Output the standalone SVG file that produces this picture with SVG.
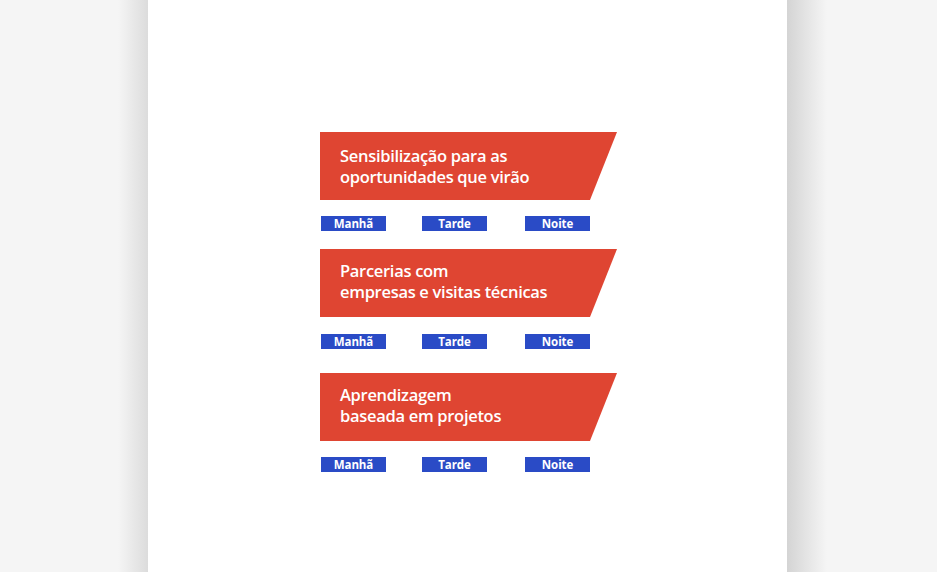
<svg xmlns="http://www.w3.org/2000/svg" width="937" height="572" viewBox="0 0 937 572">
<defs>
<linearGradient id="shL" x1="0" x2="1" y1="0" y2="0">
<stop offset="0" stop-color="#f5f5f5"/>
<stop offset="1" stop-color="#dcdcdc"/>
</linearGradient>
<linearGradient id="shR" x1="0" x2="1" y1="0" y2="0">
<stop offset="0" stop-color="#d4d4d4"/>
<stop offset="1" stop-color="#f5f5f5"/>
</linearGradient>
</defs>
<style>
.banner{fill:#df4532}
.bt{font-family:"Open Sans","Liberation Sans",sans-serif;font-weight:600;font-size:16.5px;letter-spacing:-0.3px;fill:#ffffff}
.box{fill:#2a4bc6}
.lt{font-family:"Open Sans","Liberation Sans",sans-serif;font-weight:700;font-size:11.5px;letter-spacing:-0.1px;fill:#ffffff;text-anchor:middle}
</style>
<rect width="937" height="572" fill="#f5f5f5"/>
<rect x="118" y="0" width="30" height="572" fill="url(#shL)"/>
<rect x="787" y="0" width="40" height="572" fill="url(#shR)"/>
<rect x="148" y="0" width="639" height="572" fill="#ffffff"/>
<g id="node1">
<polygon class="banner" points="320,132 617,132 590,200 320,200"/>
<text class="bt" x="340" y="162">Sensibilização para as</text>
<text class="bt" x="340" y="183">oportunidades que virão</text>
</g>
<g id="slots1">
<rect class="box" x="321" y="216" width="65" height="15"/><text class="lt" x="353.5" y="227.5">Manhã</text>
<rect class="box" x="422" y="216" width="65" height="15"/><text class="lt" x="454.5" y="227.5">Tarde</text>
<rect class="box" x="525" y="216" width="65" height="15"/><text class="lt" x="557.5" y="227.5">Noite</text>
</g>
<g id="node2">
<polygon class="banner" points="320,249 617,249 590,317 320,317"/>
<text class="bt" x="340" y="277">Parcerias com</text>
<text class="bt" x="340" y="298">empresas e visitas técnicas</text>
</g>
<g id="slots2">
<rect class="box" x="321" y="334" width="65" height="15"/><text class="lt" x="353.5" y="345.5">Manhã</text>
<rect class="box" x="422" y="334" width="65" height="15"/><text class="lt" x="454.5" y="345.5">Tarde</text>
<rect class="box" x="525" y="334" width="65" height="15"/><text class="lt" x="557.5" y="345.5">Noite</text>
</g>
<g id="node3">
<polygon class="banner" points="320,373 617,373 590,441 320,441"/>
<text class="bt" x="340" y="401">Aprendizagem</text>
<text class="bt" x="340" y="422">baseada em projetos</text>
</g>
<g id="slots3">
<rect class="box" x="321" y="457" width="65" height="15"/><text class="lt" x="353.5" y="468.5">Manhã</text>
<rect class="box" x="422" y="457" width="65" height="15"/><text class="lt" x="454.5" y="468.5">Tarde</text>
<rect class="box" x="525" y="457" width="65" height="15"/><text class="lt" x="557.5" y="468.5">Noite</text>
</g>
<g id="connectors"></g>
</svg>
